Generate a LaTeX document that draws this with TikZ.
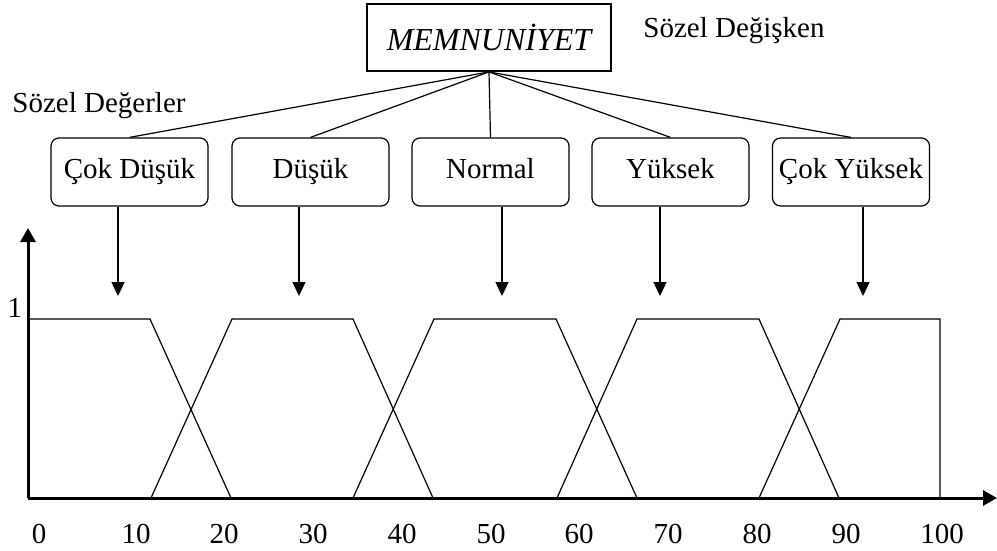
\documentclass[tikz,border=0pt]{standalone}
\usepackage{fontspec}
\setmainfont{Liberation Serif}
\usetikzlibrary{arrows.meta}
\tikzset{
  varbox/.style={draw, line width=1.8pt, minimum width=244pt, minimum height=67pt, font=\fontsize{32}{34}\selectfont\itshape},
  valbox/.style={draw, rounded corners=8pt, line width=1.2pt, minimum width=157pt, minimum height=68pt, text height=18pt, text depth=6pt, font=\fontsize{29}{31}\selectfont},
  txt/.style={font=\fontsize{29}{31}\selectfont, inner sep=0pt},
  branch/.style={line width=1.2pt},
  pointer/.style={line width=1.4pt, -{Triangle[length=14pt, width=13pt]}},
  axisline/.style={line width=3pt, -{Triangle[length=14pt, width=15pt]}},
  memberline/.style={line width=1.2pt}
}
\begin{document}
\begin{tikzpicture}[x=1pt, y=-1pt]
\useasboundingbox (0,0) rectangle (997,551);
\node[varbox] (var) at (489,37.5) {MEMNUNİYET};
\node[txt] (vartext) at (734,31) {Sözel Değişken};
\node[txt] (valtext) at (99,106) {Sözel Değerler};

\node[valbox] (cd) at (129.5,172) {Çok Düşük};
\node[valbox] (d) at (310.5,172) {Düşük};
\node[valbox] (n) at (490.5,172) {Normal};
\node[valbox] (y) at (670.5,172) {Yüksek};
\node[valbox] (cy) at (851,172) {Çok Yüksek};

\foreach \v in {cd,d,n,y,cy}
  \draw[branch] (var.south) -- (\v.north);

\coordinate (pcd) at (118,296);
\coordinate (pd) at (299,296);
\coordinate (pn) at (502,296);
\coordinate (py) at (660,296);
\coordinate (pcy) at (863,296);
\foreach \v in {cd,d,n,y,cy}
  \draw[pointer] (\v.south -| p\v) -- (p\v);

\coordinate (o) at (28,498);
\coordinate (xend) at (997,498);
\coordinate (yend) at (28,228);
\draw[axisline] (o) -- (xend);
\draw[axisline] (o) -- (yend);
\node[txt] (one) at (15,308) {1};

\draw[memberline] (28,319) -- (150,319) -- (231,498);
\draw[memberline] (151,498) -- (232,319) -- (353,319) -- (433,498);
\draw[memberline] (353,498) -- (434,319) -- (556,319) -- (637,498);
\draw[memberline] (557,498) -- (637,319) -- (759,319) -- (839,498);
\draw[memberline] (759,498) -- (840,319) -- (940,319) -- (940,498);

\foreach \t/\x in {0/39,10/136,20/224,30/313,40/402,50/491,60/579,70/668,80/757,90/846,100/942}
  \node[txt] (t\t) at (\x,534) {\t};
\end{tikzpicture}
\end{document}
